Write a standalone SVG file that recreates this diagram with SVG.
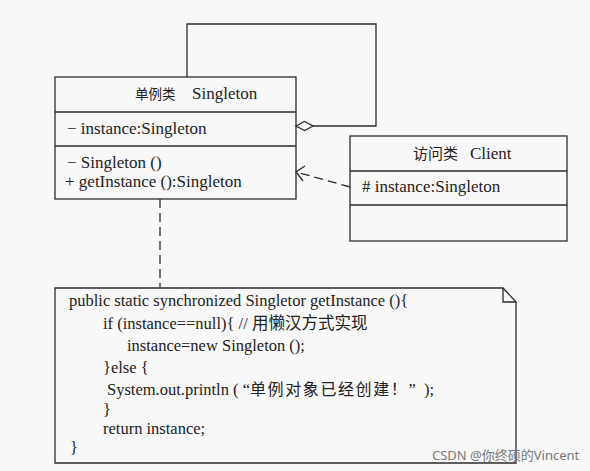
<svg xmlns="http://www.w3.org/2000/svg" width="590" height="471" viewBox="0 0 590 471">
<style>
.ln{fill:none;stroke:#2b2b2b;stroke-width:1.3}
.dash{fill:none;stroke:#2b2b2b;stroke-width:1.3;stroke-dasharray:9 5}
.t{font-family:"Liberation Serif","Times New Roman","DejaVu Serif",serif;font-size:17px;fill:#222}
.c{font-family:"Liberation Serif","Times New Roman","DejaVu Serif",serif;font-size:16.5px;fill:#222;white-space:pre}
.cjk{font-family:"Noto Sans CJK SC",sans-serif;fill:#222}
.wm{font-family:"Noto Sans","Noto Sans CJK SC",sans-serif;font-size:13px;fill:#777}
</style>
<rect width="590" height="471" fill="#f8f8f8"/>
<g id="connectors">
<path class="ln" d="M187 77 V24 H376 V126 H313"/>
<polygon class="ln" points="296,126 304.5,121.5 313,126 304.5,130.5" fill="#f8f8f8"/>
<path class="dash" d="M350 187 L298 172.5"/>
<path class="ln" d="M305 166 L296 172 L303 181"/>
<path class="dash" d="M160 199 V288"/>
</g>
<g id="singleton">
<rect class="ln" x="55" y="77" width="241" height="122"/>
<line class="ln" x1="55" y1="112" x2="296" y2="112"/>
<line class="ln" x1="55" y1="146" x2="296" y2="146"/>
<text class="cjk" x="135" y="99" font-size="13.5">单例类</text>
<text class="t" x="192" y="99">Singleton</text>
<text class="t" x="67" y="134">− instance:Singleton</text>
<text class="t" x="67" y="168">− Singleton ()</text>
<text class="t" x="65" y="187">+ getInstance ():Singleton</text>
</g>
<g id="client">
<rect class="ln" x="350" y="136" width="217" height="105"/>
<line class="ln" x1="350" y1="171" x2="567" y2="171"/>
<line class="ln" x1="350" y1="205" x2="567" y2="205"/>
<text class="cjk" x="413" y="159" font-size="15">访问类</text>
<text class="t" x="470" y="159">Client</text>
<text class="t" x="362" y="192"># instance:Singleton</text>
</g>
<g id="note">
<path class="ln" d="M55 288 H503 L516 302 V463 H55 Z"/>
<path class="ln" d="M503 288 V302 H516"/>
<text class="c" x="69" y="306">public static synchronized Singletor getInstance (){</text>
<text class="c" x="103" y="329">if (instance==null){ // <tspan class="cjk" font-size="16.5">用懒汉方式实现</tspan></text>
<text class="c" x="127" y="351">instance=new Singleton ();</text>
<text class="c" x="103" y="373">}else {</text>
<text class="c" x="107" y="395">System.out.println ( “<tspan class="cjk" font-size="16" letter-spacing="1.6">单例对象已经创建！</tspan>”  );</text>
<text class="c" x="103" y="415">}</text>
<text class="c" x="103" y="434">return instance;</text>
<text class="c" x="70" y="453">}</text>
</g>
<text class="wm" x="432" y="460">CSDN @你终硕的Vincent</text>
</svg>
